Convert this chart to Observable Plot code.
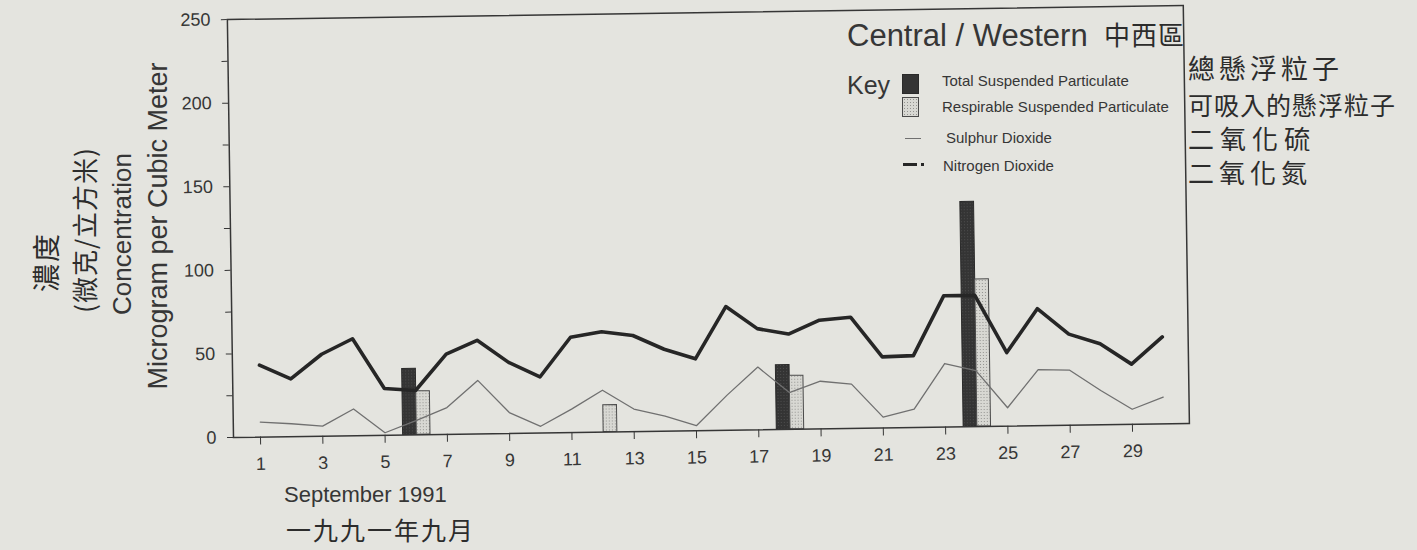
<!DOCTYPE html>
<html><head><meta charset="utf-8">
<script src="https://cdn.jsdelivr.net/npm/d3@7"></script>
<script src="https://cdn.jsdelivr.net/npm/@observablehq/plot@0.6"></script>
<style>
html,body{margin:0;padding:0;background:#e4e4df;overflow:hidden;}
#wrap{position:relative;width:1417px;height:550px;overflow:hidden;background:#e4e4df;font-family:"Liberation Sans",Arial,sans-serif;color:#363636;}
.t{position:absolute;white-space:nowrap;line-height:1;transform:translateY(-50%);}
.hand{font-family:"Noto Sans CJK TC",sans-serif;font-weight:400;color:#2c2c2c;}
.rot{position:absolute;white-space:nowrap;line-height:1;transform:translate(-50%,-50%) rotate(-90deg);}
.sw{position:absolute;}
</style></head><body><div id="wrap"></div>
<script>
// ---- data ----
const days = [1,2,3,4,5,6,7,8,9,10,11,12,13,14,15,16,17,18,19,20,21,22,23,24,25,26,27,28,29,30];
const no2 = [43,34.5,49,58,28,26.5,48,56,42.5,33.5,57,60,57.5,49,43,74,60.5,57,65,66.5,42.5,43,78.5,78.5,44,70,54.5,48.5,36,52];
const so2 = [9,7.7,6,16,1.5,8.5,16,32,12.5,4,14,25,13.5,9,3,21,37.5,22,28.5,26.5,6.5,11,38,33.5,11,33.5,33,20.5,9,16];
const tspDays = [6,18,24];
const tspValues = [39.5,38.5,134.5];
const rspDays = [6,12,18,24];
const rspValues = [26,16,32,88];
const xTicks = [1,3,5,7,9,11,13,15,17,19,21,23,25,27,29];
const yTicks = [0,50,100,150,200,250];
const yMinorTicks = [25,75,125,175,225];

const no2Rows = days.map((d,i)=>({day:d, v:no2[i]}));
const so2Rows = days.map((d,i)=>({day:d, v:so2[i]}));
const tspRows = tspDays.map((d,i)=>({day:d, v:tspValues[i]}));
const rspRows = rspDays.map((d,i)=>({day:d, v:rspValues[i]}));

const ink = "#363636";
const chart = Plot.plot({
  width: 1417, height: 550,
  marginLeft: 233, marginRight: 228, marginTop: 19, marginBottom: 113,
  x: {domain: [0.133, 30.83], axis: null},
  y: {domain: [0, 250], axis: null},
  style: {background: "transparent", fontFamily: "'Liberation Sans', Arial, sans-serif", fontSize: "18px", color: ink},
  marks: [
    Plot.rectY(tspRows, {x1: d => d.day - 0.42, x2: d => d.day + 0.02, y: "v", fill: "url(#tspPat)", stroke: "#2a2a2a", strokeWidth: 1}),
    Plot.rectY(rspRows, {x1: d => d.day + 0.02, x2: d => d.day + 0.46, y: "v", fill: "url(#rspPat)", stroke: "#4a4a4a", strokeWidth: 1}),
    Plot.line(so2Rows, {x: "day", y: "v", stroke: "#707070", strokeWidth: 1.3}),
    Plot.line(no2Rows, {x: "day", y: "v", stroke: "#262626", strokeWidth: 3.6, strokeLinejoin: "round"}),
    Plot.frame({stroke: ink, strokeWidth: 1.5}),
    Plot.axisY({ticks: yTicks, tickSize: 6, tickPadding: 11, label: null, stroke: ink, fill: ink}),
    Plot.axisY({ticks: yMinorTicks, tickSize: 6, tickFormat: () => "", label: null, stroke: ink}),
    Plot.axisX({ticks: xTicks, tickSize: 8, tickPadding: 12, label: null, stroke: ink, fill: ink, tickFormat: d => String(d)})
  ]
});

const NS = "http://www.w3.org/2000/svg";
const defs = document.createElementNS(NS, "defs");
defs.innerHTML = `
<pattern id="rspPat" width="3" height="3" patternUnits="userSpaceOnUse">
  <rect width="3" height="3" fill="#d8d8d3"/><rect width="1" height="1" fill="#939390"/>
</pattern>
<pattern id="tspPat" width="3" height="3" patternUnits="userSpaceOnUse">
  <rect width="3" height="3" fill="#343434"/><rect x="1" y="1" width="1" height="1" fill="#4e4e4e"/>
</pattern>`;
chart.prepend(defs);
chart.style.position = "absolute";
chart.style.left = "0px";
chart.style.top = "0px";
chart.style.maxWidth = "none";
chart.style.transform = "rotate(-0.84deg)";
chart.style.transformOrigin = "233px 437px";

const wrap = document.getElementById("wrap");
wrap.appendChild(chart);

function addText(txt, cls, left, cy, size, extra) {
  const el = document.createElement("div");
  el.className = cls;
  el.textContent = txt;
  el.style.left = left + "px";
  el.style.top = cy + "px";
  el.style.fontSize = size + "px";
  if (extra) Object.assign(el.style, extra);
  wrap.appendChild(el);
  return el;
}
function addSwatch(left, top, w, h, style) {
  const el = document.createElement("div");
  el.className = "sw";
  Object.assign(el.style, {left: left + "px", top: top + "px", width: w + "px", height: h + "px"}, style);
  wrap.appendChild(el);
}

// title & key
addText("Central / Western", "t", 847, 35, 31);
addText("中西區", "t hand", 1104, 34, 26, {letterSpacing: "1px"});
addText("Key", "t", 847, 85, 25);
addSwatch(902, 74, 15, 18, {background: "#343434", border: "1px solid #2a2a2a"});
addSwatch(902, 97, 15, 18, {backgroundColor: "#d8d8d3", backgroundImage: "radial-gradient(#939390 0.7px, transparent 0.9px)", backgroundSize: "3px 3px", border: "1px solid #4a4a4a"});
addSwatch(905, 138, 16, 1.3, {background: "#707070"});
addSwatch(903, 162.5, 14, 3.4, {background: "#262626"});
addSwatch(921, 163, 3, 2.5, {background: "#262626"});
addText("Total Suspended Particulate", "t", 942, 80, 15);
addText("Respirable Suspended Particulate", "t", 942, 106, 15);
addText("Sulphur Dioxide", "t", 946, 137, 15);
addText("Nitrogen Dioxide", "t", 943, 165, 15);

// handwritten notes on the right
addText("總懸浮粒子", "t hand", 1188, 67, 27, {letterSpacing: "4px"});
addText("可吸入的懸浮粒子", "t hand", 1188, 104, 25, {letterSpacing: "1px"});
addText("二氧化硫", "t hand", 1188, 138, 26, {letterSpacing: "6px"});
addText("二氧化氮", "t hand", 1188, 172, 26, {letterSpacing: "5px"});

// y-axis labels (rotated)
addText("Concentration", "rot", 122, 234, 26);
addText("Microgram per Cubic Meter", "rot", 158, 226, 27);
addText("濃度", "rot hand", 45, 262, 28, {letterSpacing: "2px"});
addText("(微克/立方米)", "rot hand", 84, 230, 26, {letterSpacing: "1px"});

// x-axis caption
addText("September 1991", "t", 284, 495, 22);
addText("一九九一年九月", "t hand", 286, 529, 25, {letterSpacing: "2px"});
</script>
</body></html>
